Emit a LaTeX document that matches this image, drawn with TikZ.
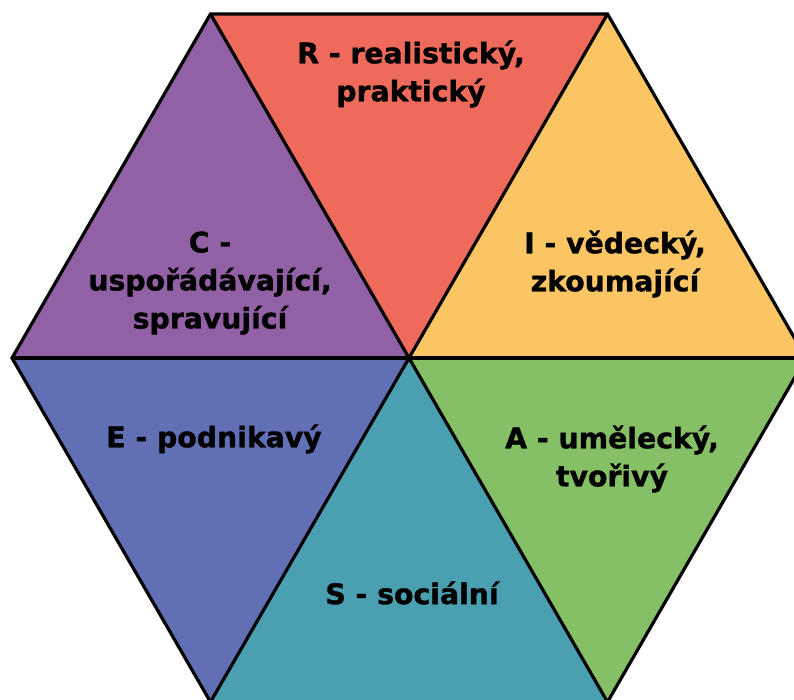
\documentclass[tikz,border=0pt]{standalone}
\usepackage{fontspec}
\setmainfont{DejaVu Sans}[BoldFeatures={FakeBold=1.2}]
\begin{document}
\begin{tikzpicture}[x=1pt,y=-1pt,
  seg/.style={draw=black,line width=3.2pt,line join=miter},
  lab/.style={font=\bfseries\fontsize{28.3}{38}\selectfont,align=center,text=black,inner sep=0pt}]
\definecolor{cR}{HTML}{EE6B5B}
\definecolor{cI}{HTML}{FAC562}
\definecolor{cA}{HTML}{85BF66}
\definecolor{cS}{HTML}{4AA0B0}
\definecolor{cE}{HTML}{6170B5}
\definecolor{cC}{HTML}{9260A5}
\useasboundingbox (0,0) rectangle (794,700);
\clip (0,0) rectangle (794,700);
\coordinate (O) at (409,358);
\coordinate (TL) at (210.5,14);
\coordinate (TR) at (607.5,14);
\coordinate (RR) at (806,358);
\coordinate (BR) at (607.5,702);
\coordinate (BL) at (210.5,702);
\coordinate (LL) at (12,358);
\fill[cR] (O) -- (TL) -- (TR) -- cycle;
\fill[cI] (O) -- (TR) -- (RR) -- cycle;
\fill[cA] (O) -- (RR) -- (BR) -- cycle;
\fill[cS] (O) -- (BR) -- (BL) -- cycle;
\fill[cE] (O) -- (BL) -- (LL) -- cycle;
\fill[cC] (O) -- (LL) -- (TL) -- cycle;
\draw[seg] (TL) -- (TR) -- (RR) -- (BR) -- (BL) -- (LL) -- cycle;
\draw[seg] (TL) -- (BR);
\draw[seg] (TR) -- (BL);
\draw[seg] (LL) -- (RR);
\node[lab] (r) at (411,74) {R - realistický,\\praktický};
\node[lab] (c) at (210,283) {C -\\uspořádávající,\\spravující};
\node[lab] (i) at (615,264) {I - vědecký,\\zkoumající};
\node[lab] (a) at (612,459) {A - umělecký,\\tvořivý};
\node[lab] (e) at (214,439) {E - podnikavý};
\node[lab] (s) at (412,593) {S - sociální};
\end{tikzpicture}
\end{document}
